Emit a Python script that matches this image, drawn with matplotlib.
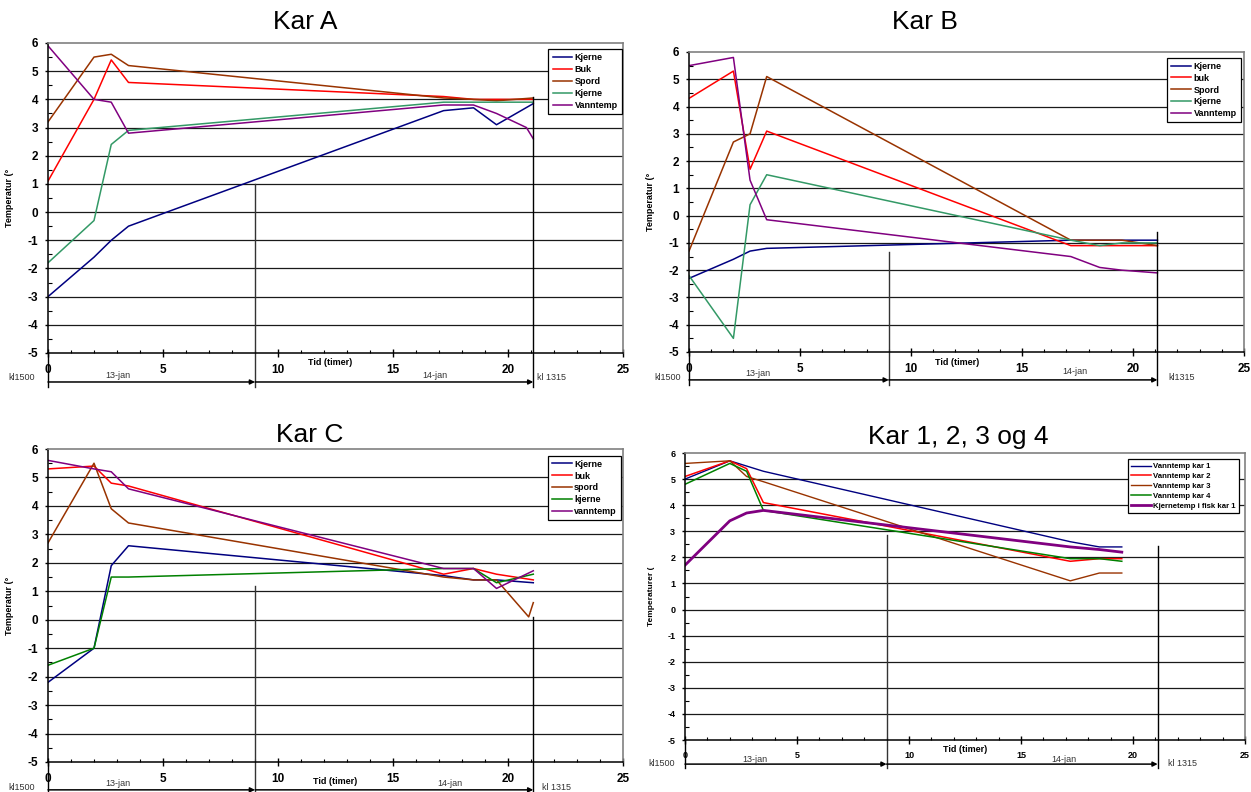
import matplotlib
matplotlib.use('Agg')
import matplotlib.pyplot as plt
import matplotlib.transforms as mtransforms
from matplotlib.ticker import MultipleLocator

plt.rcParams['font.family'] = ['Liberation Sans', 'DejaVu Sans']
plt.rcParams['axes.unicode_minus'] = False

# ---------------- data ----------------
A_t = [0, 2, 2.75, 3.5, 17.2, 18.5, 19.5, 21.1]
A_kjerne = [-3.0, -1.6, -1.0, -0.5, 3.6, 3.7, 3.1, 3.85]
A_buk = [1.1, 4.0, 5.4, 4.6, 4.1, 4.0, 4.0, 4.0]
A_spord = [3.2, 5.5, 5.6, 5.2, 4.05, 4.0, 3.95, 4.05]
A_kjerne2 = [-1.8, -0.3, 2.4, 2.9, 3.9, 3.9, 3.9, 3.9]
A_vann_t = [0, 2, 2.75, 3.5, 17.2, 18.5, 19.5, 20.8, 21.1]
A_vann = [5.9, 4.0, 3.9, 2.8, 3.8, 3.8, 3.5, 3.0, 2.6]
A_labels = ['Kjerne', 'Buk', 'Spord', 'Kjerne', 'Vanntemp']

B_t = [0, 2, 2.75, 3.5, 17.2, 18.5, 19.5, 21.1]
B_kjerne = [-2.3, -1.6, -1.3, -1.2, -0.9, -0.9, -0.9, -0.9]
B_buk = [4.3, 5.3, 1.7, 3.1, -1.1, -1.1, -1.1, -1.1]
B_spord = [-1.3, 2.7, 3.0, 5.1, -0.9, -0.9, -0.9, -1.1]
B_kjerne2 = [-2.2, -4.5, 0.4, 1.5, -0.9, -1.1, -1.0, -1.0]
B_vann = [5.5, 5.8, 1.3, -0.15, -1.5, -1.9, -2.0, -2.1]
B_labels = ['Kjerne', 'buk', 'Spord', 'Kjerne', 'Vanntemp']

C_t = [0, 2, 2.75, 3.5, 17.2, 18.5, 19.5, 21.1]
C_kjerne = [-2.2, -1.0, 1.9, 2.6, 1.55, 1.4, 1.4, 1.3]
C_buk = [5.3, 5.4, 4.8, 4.7, 1.6, 1.8, 1.6, 1.4]
C_spord_t = [0, 2, 2.75, 3.5, 17.2, 18.5, 19.5, 20.9, 21.1]
C_spord = [2.7, 5.5, 3.9, 3.4, 1.5, 1.4, 1.4, 0.1, 0.6]
C_kjerne2 = [-1.6, -1.0, 1.5, 1.5, 1.8, 1.8, 1.3, 1.6]
C_vann = [5.6, 5.3, 5.2, 4.6, 1.8, 1.8, 1.1, 1.72]
C_labels = ['Kjerne', 'buk', 'spord', 'kjerne', 'vanntemp']

D_t = [0, 2, 2.75, 3.5, 17.2, 18.5, 19.5]
D_kar1 = [5.0, 5.7, 5.5, 5.3, 2.6, 2.4, 2.4]
D_kar2 = [5.1, 5.7, 5.4, 4.1, 1.85, 1.95, 1.95]
D_kar3 = [5.6, 5.7, 5.1, 4.9, 1.1, 1.4, 1.4]
D_kar4 = [4.8, 5.6, 5.3, 3.8, 1.95, 1.95, 1.85]
D_fisk = [1.7, 3.4, 3.7, 3.8, 2.4, 2.3, 2.2]
D_labels = ['Vanntemp kar 1', 'Vanntemp kar 2', 'Vanntemp kar 3',
            'Vanntemp kar 4', 'Kjernetemp i fisk kar 1']

MARK_DAY = 9.0      # end of 13-jan
MARK_END = 21.1     # kl 1315

NAVY, RED, BROWN, SEAGREEN, GREEN, PURPLE = '#000080', '#FF0000', '#993300', '#339966', '#008000', '#800080'

W, H = 1251, 792
fig = plt.figure(figsize=(W / 100, H / 100), dpi=100)


def add_axes(l, t, r, b):
    return fig.add_axes([l / W, 1 - b / H, (r - l) / W, (b - t) / H])


def ftext(x, y, s, **kw):
    kw.setdefault('ha', 'center')
    kw.setdefault('va', 'center')
    fig.text(x / W, 1 - y / H, s, **kw)


def style(ax, fs_tick, ylabel, ylabel_x, fs_ylabel):
    ax.set_xlim(0, 25)
    ax.set_ylim(-5, 6)
    ax.xaxis.set_major_locator(MultipleLocator(5))
    ax.xaxis.set_minor_locator(MultipleLocator(1))
    ax.yaxis.set_major_locator(MultipleLocator(1))
    ax.yaxis.set_minor_locator(MultipleLocator(0.5))
    ax.tick_params(axis='x', which='major', direction='inout', length=6, width=1,
                   pad=5, labelsize=fs_tick, top=False)
    ax.tick_params(axis='x', which='minor', direction='in', length=2.5, width=0.8, top=False)
    ax.tick_params(axis='y', which='major', direction='out', length=2.5, width=1,
                   pad=4.5, labelsize=fs_tick, right=False)
    ax.tick_params(axis='y', which='minor', direction='in', length=3, width=0.8, right=False)
    for lbl in ax.get_xticklabels() + ax.get_yticklabels():
        lbl.set_fontweight('bold')
    for s in ['left', 'bottom']:
        ax.spines[s].set_color('black')
        ax.spines[s].set_linewidth(1.1)
    for s in ['top', 'right']:
        ax.spines[s].set_color('#808080')
        ax.spines[s].set_linewidth(1.2)
    for y in range(-4, 6):
        ax.axhline(y, color='#1a1a1a', lw=0.9, zorder=1)
    ax.set_ylabel(ylabel, fontsize=fs_ylabel, fontweight='bold')
    ax.yaxis.set_label_coords(ylabel_x, 0.5)


def decorate(ax, arrow_y, vbottom, day_top, end_top):
    tr = mtransforms.blended_transform_factory(ax.transData, ax.transAxes)
    ax.plot([0, 0], [0, vbottom], transform=tr, color='k', lw=1, clip_on=False)
    ax.plot([MARK_DAY, MARK_DAY], [(day_top + 5) / 11, vbottom], transform=tr,
            color='#333333', lw=1, clip_on=False, zorder=2)
    ax.plot([MARK_END, MARK_END], [(end_top + 5) / 11, vbottom], transform=tr,
            color='k', lw=1, clip_on=False, zorder=2)
    for x0, x1 in [(0, MARK_DAY), (MARK_DAY, MARK_END)]:
        ax.annotate('', xy=(x1, arrow_y), xytext=(x0, arrow_y), xycoords=tr, textcoords=tr,
                    arrowprops=dict(arrowstyle='-|>', color='k', lw=1.1, mutation_scale=7,
                                    shrinkA=0, shrinkB=0),
                    annotation_clip=False)


def legend(ax, anchor, fs, hl=2.2):
    leg = ax.legend(loc='upper right', bbox_to_anchor=anchor, prop=dict(weight='bold', size=fs),
                    frameon=True, fancybox=False, edgecolor='black', framealpha=1,
                    handlelength=hl, handletextpad=0.25, labelspacing=0.32, borderpad=0.45,
                    borderaxespad=0)
    leg.get_frame().set_linewidth(0.9)


# ---------------- Kar A ----------------
ax = add_axes(48, 43, 623, 353)
ax.plot(A_t, A_kjerne, color=NAVY, lw=1.1, label=A_labels[0])
ax.plot(A_t, A_buk, color=RED, lw=1.1, label=A_labels[1])
ax.plot(A_t, A_spord, color=BROWN, lw=1.1, label=A_labels[2])
ax.plot(A_t, A_kjerne2, color=SEAGREEN, lw=1.1, label=A_labels[3])
ax.plot(A_vann_t, A_vann, color=PURPLE, lw=1.1, label=A_labels[4])
style(ax, 8.5, 'Temperatur (°', -0.059, 6.5)
decorate(ax, -0.0935, -0.11, 1.0, 4.1)
legend(ax, (0.998, 0.98), 6.5)
ftext(305, 22, 'Kar A', fontsize=19)
ftext(22, 378, 'kl1500', fontsize=6.5, color='#333333')
ftext(118, 375, '13-jan', fontsize=6.5, color='#333333')
ftext(435, 375, '14-jan', fontsize=6.5, color='#333333')
ftext(330, 363, 'Tid (timer)', fontsize=6.5, fontweight='bold')
ftext(537, 378, 'kl 1315', fontsize=6.5, color='#333333', ha='left')

# ---------------- Kar B ----------------
ax = add_axes(689, 52, 1244, 352)
ax.plot(B_t, B_kjerne, color=NAVY, lw=1.1, label=B_labels[0])
ax.plot(B_t, B_buk, color=RED, lw=1.1, label=B_labels[1])
ax.plot(B_t, B_spord, color=BROWN, lw=1.1, label=B_labels[2])
ax.plot(B_t, B_kjerne2, color=SEAGREEN, lw=1.1, label=B_labels[3])
ax.plot(B_t, B_vann, color=PURPLE, lw=1.1, label=B_labels[4])
style(ax, 8.5, 'Temperatur (°', -0.061, 6.5)
decorate(ax, -0.093, -0.11, -1.32, -0.6)
legend(ax, (0.994, 0.981), 6.5)
ftext(925, 22, 'Kar B', fontsize=19)
ftext(668, 377, 'kl1500', fontsize=6.5, color='#333333')
ftext(758, 374, '13-jan', fontsize=6.5, color='#333333')
ftext(1075, 372, '14-jan', fontsize=6.5, color='#333333')
ftext(957, 363, 'Tid (timer)', fontsize=6.5, fontweight='bold')
ftext(1168, 377, 'kl1315', fontsize=6.5, color='#333333', ha='left')

# ---------------- Kar C ----------------
ax = add_axes(48, 449, 623, 762)
ax.plot(C_t, C_kjerne, color=NAVY, lw=1.1, label=C_labels[0])
ax.plot(C_t, C_buk, color=RED, lw=1.1, label=C_labels[1])
ax.plot(C_spord_t, C_spord, color=BROWN, lw=1.1, label=C_labels[2])
ax.plot(C_t, C_kjerne2, color=GREEN, lw=1.1, label=C_labels[3])
ax.plot(C_t, C_vann, color=PURPLE, lw=1.1, label=C_labels[4])
style(ax, 8.5, 'Temperatur (°', -0.059, 6.5)
decorate(ax, -0.089, -0.11, 1.2, 0.1)
legend(ax, (0.996, 0.979), 6.5)
ftext(310, 435, 'Kar C', fontsize=19)
ftext(22, 788, 'kl1500', fontsize=6.5, color='#333333')
ftext(118, 784, '13-jan', fontsize=6.5, color='#333333')
ftext(450, 784, '14-jan', fontsize=6.5, color='#333333')
ftext(335, 781, 'Tid (timer)', fontsize=6.5, fontweight='bold')
ftext(542, 787, 'kl 1315', fontsize=6.5, color='#333333', ha='left')

# ---------------- Kar 1, 2, 3 og 4 ----------------
ax = add_axes(685, 453, 1245, 740)
ax.plot(D_t, D_kar1, color=NAVY, lw=1.0, label=D_labels[0])
ax.plot(D_t, D_kar2, color=RED, lw=1.1, label=D_labels[1])
ax.plot(D_t, D_kar3, color=BROWN, lw=1.0, label=D_labels[2])
ax.plot(D_t, D_kar4, color=GREEN, lw=1.1, label=D_labels[3])
ax.plot(D_t, D_fisk, color=PURPLE, lw=2.0, label=D_labels[4])
style(ax, 6.5, 'Temperaturer (', -0.053, 6)
decorate(ax, -0.084, -0.098, 2.86, 2.44)
legend(ax, (0.99, 0.978), 5.6, hl=2.6)
ftext(958, 437, 'Kar 1, 2, 3 og 4', fontsize=19)
ftext(662, 763, 'kl1500', fontsize=6.5, color='#333333')
ftext(755, 759, '13-jan', fontsize=6.5, color='#333333')
ftext(1064, 759, '14-jan', fontsize=6.5, color='#333333')
ftext(965, 749, 'Tid (timer)', fontsize=6.5, fontweight='bold')
ftext(1168, 763, 'kl 1315', fontsize=6.5, color='#333333', ha='left')

fig.savefig('out.png', dpi=100)
